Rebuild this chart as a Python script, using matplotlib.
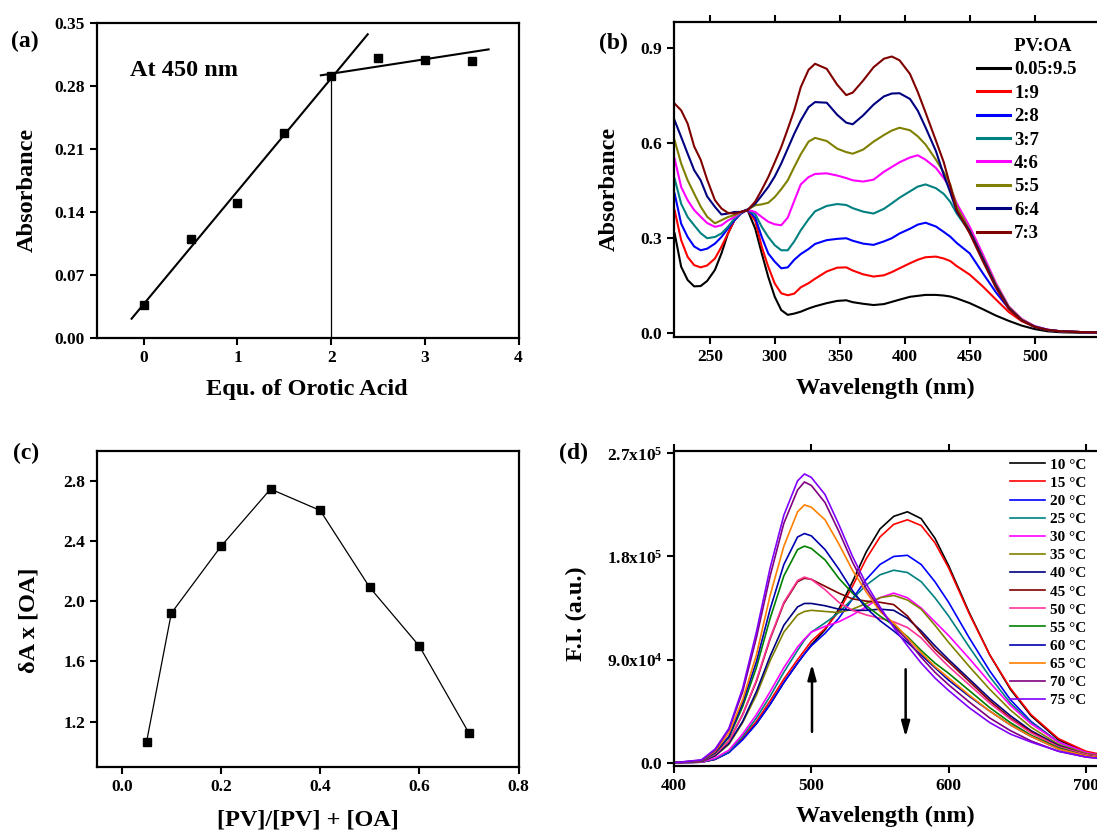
import matplotlib
matplotlib.use('Agg')
import matplotlib.pyplot as plt
import numpy as np

plt.rcParams['font.family'] = ['Liberation Serif', 'DejaVu Serif']
plt.rcParams['font.weight'] = 'bold'
plt.rcParams['axes.labelweight'] = 'bold'
plt.rcParams['mathtext.fontset'] = 'custom'
plt.rcParams['mathtext.rm'] = 'Liberation Serif:bold'
plt.rcParams['mathtext.it'] = 'Liberation Serif:bold'
plt.rcParams['mathtext.bf'] = 'Liberation Serif:bold'
plt.rcParams['axes.linewidth'] = 1.6

# ---- (a) absorbance at 450 nm vs equivalents of orotic acid
equiv = [0, 0.5, 1, 1.5, 2, 2.5, 3, 3.5]
abs450 = [0.036, 0.110, 0.150, 0.227, 0.291, 0.311, 0.309, 0.3075]
plateau_slope = 0.0161
plateau_icpt = 0.2611

# ---- (c) Job plot
mole_frac = [0.05, 0.1, 0.2, 0.3, 0.4, 0.5, 0.6, 0.7]
job_val = [1.063, 1.92, 2.364, 2.745, 2.603, 2.091, 1.701, 1.123]

# ---- (b) UV-vis spectra, PV:OA ratios
wl_b = [223, 228, 233, 238, 243, 248, 254, 259, 264, 269, 274, 279,
        285, 290, 295, 300, 305, 310, 315, 320, 326, 331, 340, 348,
        355, 360, 368, 376, 384, 390, 396, 404, 410, 416, 424, 430,
        435, 440, 450, 460, 470, 480, 490, 500, 510, 520, 540, 560]
ratio_labels = ['0.05:9.5', '1:9', '2:8', '3:7', '4:6', '5:5', '6:4', '7:3']
ratio_colors = ['#000000', '#ff0000', '#0000ff', '#008080', '#ff00ff',
                '#808000', '#000080', '#800000']
abs_0 = [0.315, 0.210, 0.168, 0.148, 0.149, 0.165, 0.200, 0.252, 0.315, 0.357, 0.383, 0.390,
         0.330, 0.252, 0.178, 0.115, 0.073, 0.058, 0.062, 0.068, 0.078, 0.085, 0.095, 0.102,
         0.104, 0.098, 0.093, 0.089, 0.092, 0.099, 0.106, 0.115, 0.118, 0.121, 0.121, 0.119,
         0.116, 0.110, 0.095, 0.076, 0.056, 0.039, 0.024, 0.013, 0.006, 0.003, 0.001, 0.000]
abs_1 = [0.388, 0.294, 0.241, 0.215, 0.208, 0.214, 0.236, 0.273, 0.315, 0.357, 0.378, 0.390,
         0.355, 0.273, 0.210, 0.157, 0.126, 0.120, 0.125, 0.145, 0.158, 0.172, 0.195, 0.207,
         0.208, 0.198, 0.186, 0.179, 0.183, 0.193, 0.205, 0.221, 0.232, 0.240, 0.242, 0.236,
         0.228, 0.212, 0.185, 0.148, 0.107, 0.067, 0.038, 0.020, 0.011, 0.006, 0.003, 0.002]
abs_2 = [0.441, 0.346, 0.304, 0.274, 0.262, 0.267, 0.283, 0.304, 0.331, 0.357, 0.378, 0.390,
         0.365, 0.304, 0.252, 0.226, 0.205, 0.208, 0.232, 0.250, 0.266, 0.282, 0.294, 0.298,
         0.300, 0.292, 0.283, 0.279, 0.290, 0.300, 0.315, 0.330, 0.343, 0.349, 0.337, 0.320,
         0.305, 0.285, 0.252, 0.190, 0.130, 0.078, 0.042, 0.022, 0.011, 0.006, 0.003, 0.002]
abs_3 = [0.488, 0.409, 0.367, 0.341, 0.316, 0.300, 0.304, 0.315, 0.336, 0.362, 0.380, 0.390,
         0.376, 0.336, 0.304, 0.278, 0.262, 0.262, 0.290, 0.325, 0.360, 0.385, 0.402, 0.408,
         0.405, 0.395, 0.384, 0.378, 0.393, 0.410, 0.428, 0.448, 0.463, 0.470, 0.458, 0.440,
         0.415, 0.378, 0.320, 0.235, 0.150, 0.082, 0.042, 0.020, 0.010, 0.006, 0.003, 0.002]
abs_4 = [0.551, 0.462, 0.420, 0.389, 0.368, 0.348, 0.336, 0.341, 0.356, 0.367, 0.382, 0.390,
         0.383, 0.367, 0.352, 0.344, 0.341, 0.365, 0.418, 0.470, 0.493, 0.503, 0.505, 0.498,
         0.490, 0.483, 0.479, 0.485, 0.510, 0.525, 0.540, 0.555, 0.562, 0.548, 0.522, 0.490,
         0.460, 0.410, 0.336, 0.250, 0.160, 0.085, 0.045, 0.022, 0.011, 0.006, 0.003, 0.002]
abs_5 = [0.609, 0.536, 0.483, 0.441, 0.400, 0.368, 0.347, 0.357, 0.367, 0.373, 0.383, 0.390,
         0.404, 0.407, 0.412, 0.430, 0.455, 0.483, 0.525, 0.565, 0.605, 0.617, 0.607, 0.583,
         0.572, 0.567, 0.580, 0.605, 0.626, 0.640, 0.649, 0.641, 0.622, 0.596, 0.548, 0.508,
         0.470, 0.400, 0.325, 0.240, 0.155, 0.083, 0.043, 0.021, 0.010, 0.006, 0.003, 0.002]
abs_6 = [0.672, 0.620, 0.567, 0.515, 0.483, 0.432, 0.399, 0.375, 0.378, 0.383, 0.383, 0.390,
         0.409, 0.435, 0.462, 0.495, 0.536, 0.583, 0.630, 0.672, 0.714, 0.730, 0.728, 0.690,
         0.665, 0.660, 0.688, 0.722, 0.748, 0.757, 0.758, 0.740, 0.703, 0.650, 0.575, 0.500,
         0.445, 0.385, 0.322, 0.236, 0.150, 0.080, 0.041, 0.020, 0.010, 0.006, 0.003, 0.002]
abs_7 = [0.725, 0.704, 0.662, 0.590, 0.548, 0.485, 0.420, 0.394, 0.380, 0.378, 0.383, 0.388,
         0.416, 0.453, 0.493, 0.540, 0.588, 0.645, 0.704, 0.777, 0.832, 0.851, 0.835, 0.785,
         0.752, 0.760, 0.798, 0.840, 0.867, 0.874, 0.862, 0.819, 0.762, 0.697, 0.608, 0.540,
         0.465, 0.389, 0.315, 0.228, 0.145, 0.077, 0.040, 0.020, 0.010, 0.006, 0.003, 0.002]
abs_series = [abs_0, abs_1, abs_2, abs_3, abs_4, abs_5, abs_6, abs_7]

# ---- (d) fluorescence vs temperature (values in units of 1e4)
wl_d = [400, 420, 430, 440, 450, 460, 470, 480, 490, 495, 500, 510, 520, 530,
        540, 550, 560, 570, 580, 590, 600, 615, 630, 645, 660, 680, 700, 720]
temp_labels = ['10 °C', '15 °C', '20 °C', '25 °C', '30 °C', '35 °C', '40 °C',
               '45 °C', '50 °C', '55 °C', '60 °C', '65 °C', '70 °C', '75 °C']
temp_colors = ['#000000', '#ff0000', '#0000ff', '#008080', '#ff00ff', '#808000',
               '#000080', '#800000', '#ff3399', '#008000', '#0000b0', '#ff8000',
               '#800080', '#8000ff']
fi_10 = [0, 0.05, 0.3, 0.9, 2.1, 3.4, 5.1, 7.0, 8.7, 9.5, 10.3, 11.6, 13.4, 15.8,
         18.4, 20.4, 21.5, 21.9, 21.3, 19.6, 17.2, 13.1, 9.4, 6.4, 4.1, 2.0, 0.9, 0.5]
fi_15 = [0, 0.05, 0.3, 1.0, 2.2, 3.6, 5.4, 7.3, 9.0, 9.8, 10.6, 11.7, 13.2, 15.4,
         17.8, 19.7, 20.8, 21.2, 20.7, 19.2, 17.0, 13.0, 9.4, 6.5, 4.2, 2.1, 1.0, 0.5]
fi_20 = [0, 0.05, 0.3, 0.9, 2.0, 3.4, 5.1, 7.0, 8.7, 9.5, 10.2, 11.3, 12.6, 14.3,
         16.0, 17.3, 18.0, 18.1, 17.3, 15.8, 14.0, 10.9, 8.0, 5.5, 3.6, 1.8, 0.85, 0.4]
fi_25 = [0, 0.05, 0.35, 1.0, 2.3, 3.9, 5.8, 7.9, 9.8, 10.7, 11.4, 12.2, 13.1, 14.3,
         15.5, 16.4, 16.8, 16.6, 15.8, 14.4, 12.8, 10.1, 7.5, 5.2, 3.5, 1.8, 0.85, 0.4]
fi_30 = [0, 0.06, 0.4, 1.1, 2.5, 4.2, 6.2, 8.3, 10.1, 10.8, 11.4, 11.9, 12.3, 12.9,
         13.6, 14.4, 14.8, 14.4, 13.5, 12.3, 11.1, 9.1, 7.0, 5.0, 3.4, 1.8, 0.9, 0.4]
fi_35 = [0, 0.1, 0.6, 1.6, 3.5, 5.9, 8.9, 11.4, 12.9, 13.2, 13.3, 13.2, 13.1, 13.4,
         13.9, 14.4, 14.6, 14.2, 13.4, 12.0, 10.5, 8.4, 6.4, 4.6, 3.1, 1.6, 0.8, 0.4]
fi_40 = [0, 0.12, 0.62, 1.7, 3.6, 6.2, 9.3, 12.0, 13.6, 13.9, 13.9, 13.7, 13.4, 13.3,
         13.3, 13.4, 13.3, 12.6, 11.5, 10.2, 9.0, 7.3, 5.6, 4.1, 2.8, 1.5, 0.7, 0.35]
fi_45 = [0, 0.14, 0.75, 1.9, 4.2, 7.1, 10.8, 13.9, 15.8, 16.1, 16.0, 15.4, 14.8, 14.3,
         14.1, 14.0, 13.8, 12.8, 11.3, 9.9, 8.8, 7.1, 5.4, 3.9, 2.7, 1.4, 0.7, 0.35]
fi_50 = [0, 0.14, 0.75, 1.9, 4.2, 7.2, 10.9, 14.0, 15.9, 16.2, 16.0, 15.1, 14.0, 13.3,
         12.9, 12.6, 12.3, 11.8, 10.9, 9.6, 8.4, 6.8, 5.2, 3.8, 2.6, 1.4, 0.7, 0.35]
fi_55 = [0, 0.16, 0.85, 2.2, 4.9, 8.3, 12.6, 16.3, 18.6, 18.9, 18.7, 17.7, 16.1, 14.8,
         13.7, 12.8, 12.0, 11.0, 9.8, 8.7, 7.8, 6.3, 4.8, 3.5, 2.4, 1.3, 0.6, 0.3]
fi_60 = [0, 0.17, 0.9, 2.3, 5.2, 8.8, 13.4, 17.3, 19.7, 20.0, 19.8, 18.6, 16.9, 15.0,
         13.5, 12.4, 11.5, 10.5, 9.4, 8.3, 7.2, 5.8, 4.5, 3.3, 2.3, 1.2, 0.6, 0.3]
fi_65 = [0, 0.2, 1.0, 2.6, 5.5, 9.4, 14.6, 18.9, 21.9, 22.5, 22.3, 21.2, 19.1, 16.8,
         14.9, 13.2, 12.2, 10.9, 9.6, 8.4, 7.4, 5.9, 4.5, 3.3, 2.3, 1.2, 0.6, 0.3]
fi_70 = [0, 0.22, 1.1, 2.9, 6.2, 10.9, 16.3, 20.9, 23.8, 24.5, 24.2, 22.7, 20.2, 17.5,
         15.2, 13.4, 11.9, 10.7, 9.2, 7.9, 6.8, 5.3, 3.9, 2.8, 1.9, 1.0, 0.5, 0.25]
fi_75 = [0, 0.25, 1.2, 3.0, 6.5, 11.4, 17.0, 21.6, 24.6, 25.2, 24.9, 23.4, 20.8, 18.0,
         15.6, 13.6, 11.8, 10.2, 8.7, 7.4, 6.3, 4.8, 3.5, 2.5, 1.8, 1.0, 0.5, 0.25]
fi_series = [fi_10, fi_15, fi_20, fi_25, fi_30, fi_35, fi_40, fi_45, fi_50,
             fi_55, fi_60, fi_65, fi_70, fi_75]

W, H = 1097, 832
fig = plt.figure(figsize=(W / 100, H / 100), dpi=100)


def px_axes(left, top, width, height):
    return fig.add_axes([left / W, 1 - (top + height) / H, width / W, height / H])


def style(ax, top_ticks=False):
    ax.tick_params(direction='out', length=5, width=1.5, labelsize=12.5,
                   top=top_ticks, labeltop=False)
    for lab in ax.get_xticklabels() + ax.get_yticklabels():
        lab.set_fontweight('bold')


LAB = 17.5

ax_a = px_axes(96.9, 22.7, 421.7, 315)
ax_b = px_axes(674, 22.3, 438.75, 314.4)
ax_c = px_axes(96.9, 450.7, 421.7, 316)
ax_d = px_axes(674, 450.7, 439.4, 315)

# (a)
ax_a.plot(equiv, abs450, 's', color='k', ms=5.5)
k1, b1 = np.polyfit(equiv[:5], abs450[:5], 1)
xf1 = np.array([-0.13, 2.39])
ax_a.plot(xf1, k1 * xf1 + b1, color='k', lw=1.5)
xf2 = np.array([1.89, 3.68])
ax_a.plot(xf2, plateau_slope * xf2 + plateau_icpt, color='k', lw=1.5)
ax_a.plot([2, 2], [0, k1 * 2 + b1], color='k', lw=0.9)
ax_a.set_xlim(-0.5, 4)
ax_a.set_ylim(0, 0.35)
ax_a.set_xticks([0, 1, 2, 3, 4])
ax_a.set_yticks([0, 0.07, 0.14, 0.21, 0.28, 0.35])
ax_a.set_yticklabels(['0.00', '0.07', '0.14', '0.21', '0.28', '0.35'])
ax_a.text(0.43, 0.297, 'At 450 nm', fontsize=17.5, fontweight='bold', ha='center', va='center')
ax_a.set_xlabel('Equ. of Orotic Acid', fontsize=LAB)
ax_a.set_ylabel('Absorbance', fontsize=LAB)
ax_a.xaxis.set_label_coords(0.498, -0.131)
ax_a.yaxis.set_label_coords(-0.14, 0.47)
style(ax_a)

# (b)
for ys, lab, col in zip(abs_series, ratio_labels, ratio_colors):
    ax_b.plot(wl_b, ys, color=col, lw=1.5, label=lab)
ax_b.set_xlim(222.5, 560)
ax_b.set_ylim(-0.011, 0.982)
ax_b.set_xticks([250, 300, 350, 400, 450, 500])
ax_b.set_yticks([0, 0.3, 0.6, 0.9])
ax_b.set_yticklabels(['0.0', '0.3', '0.6', '0.9'])
ax_b.set_xlabel('Wavelength (nm)', fontsize=LAB)
ax_b.set_ylabel('Absorbance', fontsize=LAB)
ax_b.xaxis.set_label_coords(0.481, -0.132)
ax_b.yaxis.set_label_coords(-0.124, 0.47)
style(ax_b, top_ticks=True)
leg_b = ax_b.legend(loc='upper left', bbox_to_anchor=(976.7 / W, 1 - 38 / H),
                    bbox_transform=fig.transFigure, frameon=False, fontsize=13.5,
                    title='       PV:OA', title_fontproperties={'weight': 'bold', 'size': 13.5},
                    handlelength=1.8, handletextpad=0.2, labelspacing=0.335,
                    borderpad=0, borderaxespad=0)
for line in leg_b.get_lines():
    line.set_linewidth(2.2)

# (c)
ax_c.plot(mole_frac, job_val, '-s', color='k', lw=0.9, ms=5.5)
ax_c.set_xlim(-0.05, 0.8)
ax_c.set_ylim(0.9, 3.0)
ax_c.set_xticks([0, 0.2, 0.4, 0.6, 0.8])
ax_c.set_xticklabels(['0.0', '0.2', '0.4', '0.6', '0.8'])
ax_c.set_yticks([1.2, 1.6, 2.0, 2.4, 2.8])
ax_c.set_xlabel('[PV]/[PV] + [OA]', fontsize=LAB)
ax_c.set_ylabel('δA x [OA]', fontsize=LAB)
ax_c.xaxis.set_label_coords(0.5, -0.135)
ax_c.yaxis.set_label_coords(-0.137, 0.462)
style(ax_c)

# (d)
for ys, lab, col in zip(fi_series, temp_labels, temp_colors):
    ax_d.plot(wl_d, np.array(ys) * 1e4, color=col, lw=1.2, label=lab)
arrow_kw = dict(arrowstyle='-|>,head_width=0.25,head_length=0.9', color='k', lw=1.8)
ax_d.annotate('', xy=(500.5, 8.85e4), xytext=(500.5, 2.45e4), arrowprops=arrow_kw)
ax_d.annotate('', xy=(568.7, 2.0e4), xytext=(568.7, 8.4e4), arrowprops=arrow_kw)
ax_d.set_xlim(400, 720)
ax_d.set_ylim(-2600, 272300)
ax_d.set_xticks([400, 500, 600, 700])
ax_d.set_yticks([0, 9e4, 1.8e5, 2.7e5])
ax_d.set_yticklabels(['0.0', r'9.0x10$^{4}$', r'1.8x10$^{5}$', r'2.7x10$^{5}$'])
ax_d.set_xlabel('Wavelength (nm)', fontsize=LAB)
ax_d.set_ylabel('F.I. (a.u.)', fontsize=LAB)
ax_d.xaxis.set_label_coords(0.482, -0.128)
ax_d.yaxis.set_label_coords(-0.198, 0.484)
style(ax_d, top_ticks=True)
ax_d.legend(loc='upper left', bbox_to_anchor=(1010 / W, 1 - 458 / H),
            bbox_transform=fig.transFigure, frameon=False, fontsize=11,
            handlelength=2.3, handletextpad=0.3, labelspacing=0.29,
            borderpad=0, borderaxespad=0)

# panel letters
for txt, x, y in [('(a)', 24.6, 41), ('(b)', 613, 43), ('(c)', 25.7, 453), ('(d)', 574, 453)]:
    fig.text(x / W, 1 - y / H, txt, fontsize=17, fontweight='bold', ha='center', va='center')

fig.savefig('out.png', dpi=100)
